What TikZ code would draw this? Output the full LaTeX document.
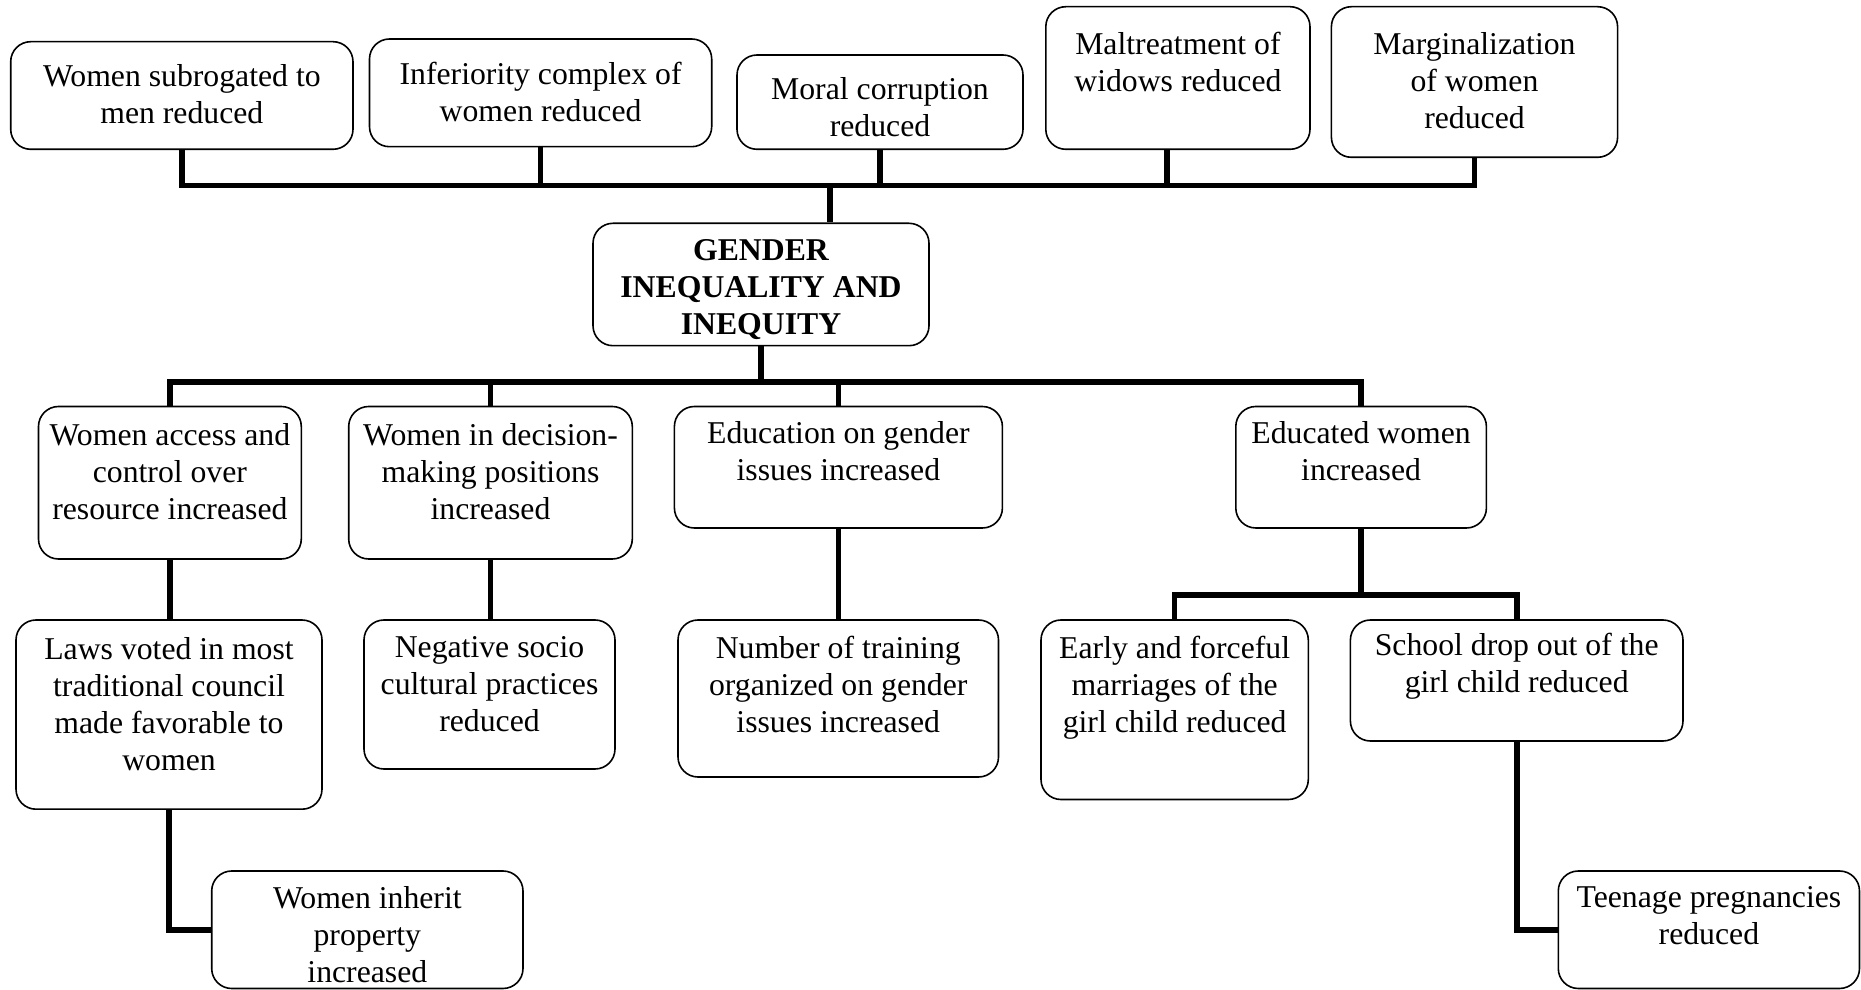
\documentclass[tikz,border=0pt]{standalone}
\usepackage{fontspec}
\setmainfont{Liberation Serif}
\usetikzlibrary{fit,calc}
\begin{document}
\begin{tikzpicture}[x=0.375pt,y=-0.375pt,
  box/.style={draw,line width=0.6pt,rounded corners=7.5pt,inner sep=0pt},
  txt/.style={anchor=north,align=center,inner sep=0pt,font=\fontsize{11.9}{13.9}\selectfont},
  link/.style={line width=2.1pt}]
\useasboundingbox (0,0) rectangle (1861,990);

% top row: effects
\node[box, fit={(10.7,41.7) (353,149.3)}] (b1) {};
\node[txt] (b1t) at ($(b1.north)+(0,23)$) {Women subrogated to\\men reduced};
\node[box, fit={(369.5,39) (711.7,146.7)}] (b2) {};
\node[txt] (b2t) at ($(b2.north)+(0,23)$) {Inferiority complex of\\women reduced};
\node[box, fit={(737,55) (1023,149.3)}] (b3) {};
\node[txt] (b3t) at ($(b3.north)+(0,23)$) {Moral corruption\\reduced};
\node[box, fit={(1045.8,6.7) (1310,149.3)}] (b4) {};
\node[txt] (b4t) at ($(b4.north)+(0,25.6)$) {Maltreatment of\\widows reduced};
\node[box, fit={(1331.4,6.7) (1617.6,157.3)}] (b5) {};
\node[txt] (b5t) at ($(b5.north)+(0,25.6)$) {Marginalization\\of women\\reduced};

% central problem
\node[box, fit={(593,223.3) (929,345.7)}] (g) {};
\node[txt, font=\fontsize{11.9}{13.9}\selectfont\bfseries] (gt) at ($(g.north)+(0,16)$) {GENDER\\INEQUALITY AND\\INEQUITY};

% second row
\node[box, fit={(38.5,406.5) (301.3,559)}] (A) {};
\node[txt] (At) at ($(A.north)+(0,17)$) {Women access and\\control over\\resource increased};
\node[box, fit={(348.7,406.5) (632.3,559)}] (B) {};
\node[txt] (Bt) at ($(B.north)+(0,17)$) {Women in decision-\\making positions\\increased};
\node[box, fit={(674.4,406.5) (1002.4,528)}] (C) {};
\node[txt] (Ct) at ($(C.north)+(0,15)$) {Education on gender\\issues increased};
\node[box, fit={(1235.8,406.5) (1486.4,528)}] (D) {};
\node[txt] (Dt) at ($(D.north)+(0,15)$) {Educated women\\increased};

% third row
\node[box, fit={(16,620) (322,809.2)}] (E) {};
\node[txt] (Et) at ($(E.north)+(0,17.5)$) {Laws voted in most\\traditional council\\made favorable to\\women};
\node[box, fit={(364,620) (615,769)}] (F) {};
\node[txt] (Ft) at ($(F.north)+(0,16.7)$) {Negative socio\\cultural practices\\reduced};
\node[box, fit={(678,620) (998.5,777)}] (G) {};
\node[txt] (Gt) at ($(G.north)+(0,16.7)$) {Number of training\\organized on gender\\issues increased};
\node[box, fit={(1041,620) (1308.3,799.5)}] (H) {};
\node[txt] (Ht) at ($(H.north)+(0,16.7)$) {Early and forceful\\marriages of the\\girl child reduced};
\node[box, fit={(1350.4,620) (1683,741)}] (I) {};
\node[txt] (It) at ($(I.north)+(0,13.6)$) {School drop out of the\\girl child reduced};

% fourth row
\node[box, fit={(211.7,871) (523,988.5)}] (J) {};
\node[txt] (Jt) at ($(J.north)+(0,15.5)$) {Women inherit\\property\\increased};
\node[box, fit={(1558.3,871) (1859.5,988.5)}] (K) {};
\node[txt] (Kt) at ($(K.north)+(0,15.5)$) {Teenage pregnancies\\reduced};

% connectors above the central box
\coordinate (tbar) at (0,185.5);
\draw[link] (b1.south) -- (b1.south |- tbar) -- (b5.south |- tbar) -- (b5.south);
\draw[link] (b2.south) -- (b2.south |- tbar);
\draw[link] (b3.south) -- (b3.south |- tbar);
\draw[link] ($(b4.south)+(-11,0)$) -- ($(b4.south |- tbar)+(-11,0)$);
\coordinate (hub) at (830,185.5);
\draw[link] (hub) -- (hub |- g.north);

% connectors below the central box
\coordinate (mbar) at (0,382);
\draw[link] (g.south) -- (g.south |- mbar);
\draw[link] (A.north) -- (A.north |- mbar) -- (D.north |- mbar) -- (D.north);
\draw[link] (B.north) -- (B.north |- mbar);
\draw[link] (C.north) -- (C.north |- mbar);
\draw[link] (A.south) -- (A.south |- E.north);
\draw[link] (B.south) -- (B.south |- F.north);
\draw[link] (C.south) -- (C.south |- G.north);
\coordinate (dbar) at (0,595);
\draw[link] (D.south) -- (D.south |- dbar);
\draw[link] (H.north) -- (H.north |- dbar) -- (I.north |- dbar) -- (I.north);
\draw[link] (E.south) |- (J.west);
\draw[link] (I.south) |- (K.west);
\end{tikzpicture}
\end{document}
